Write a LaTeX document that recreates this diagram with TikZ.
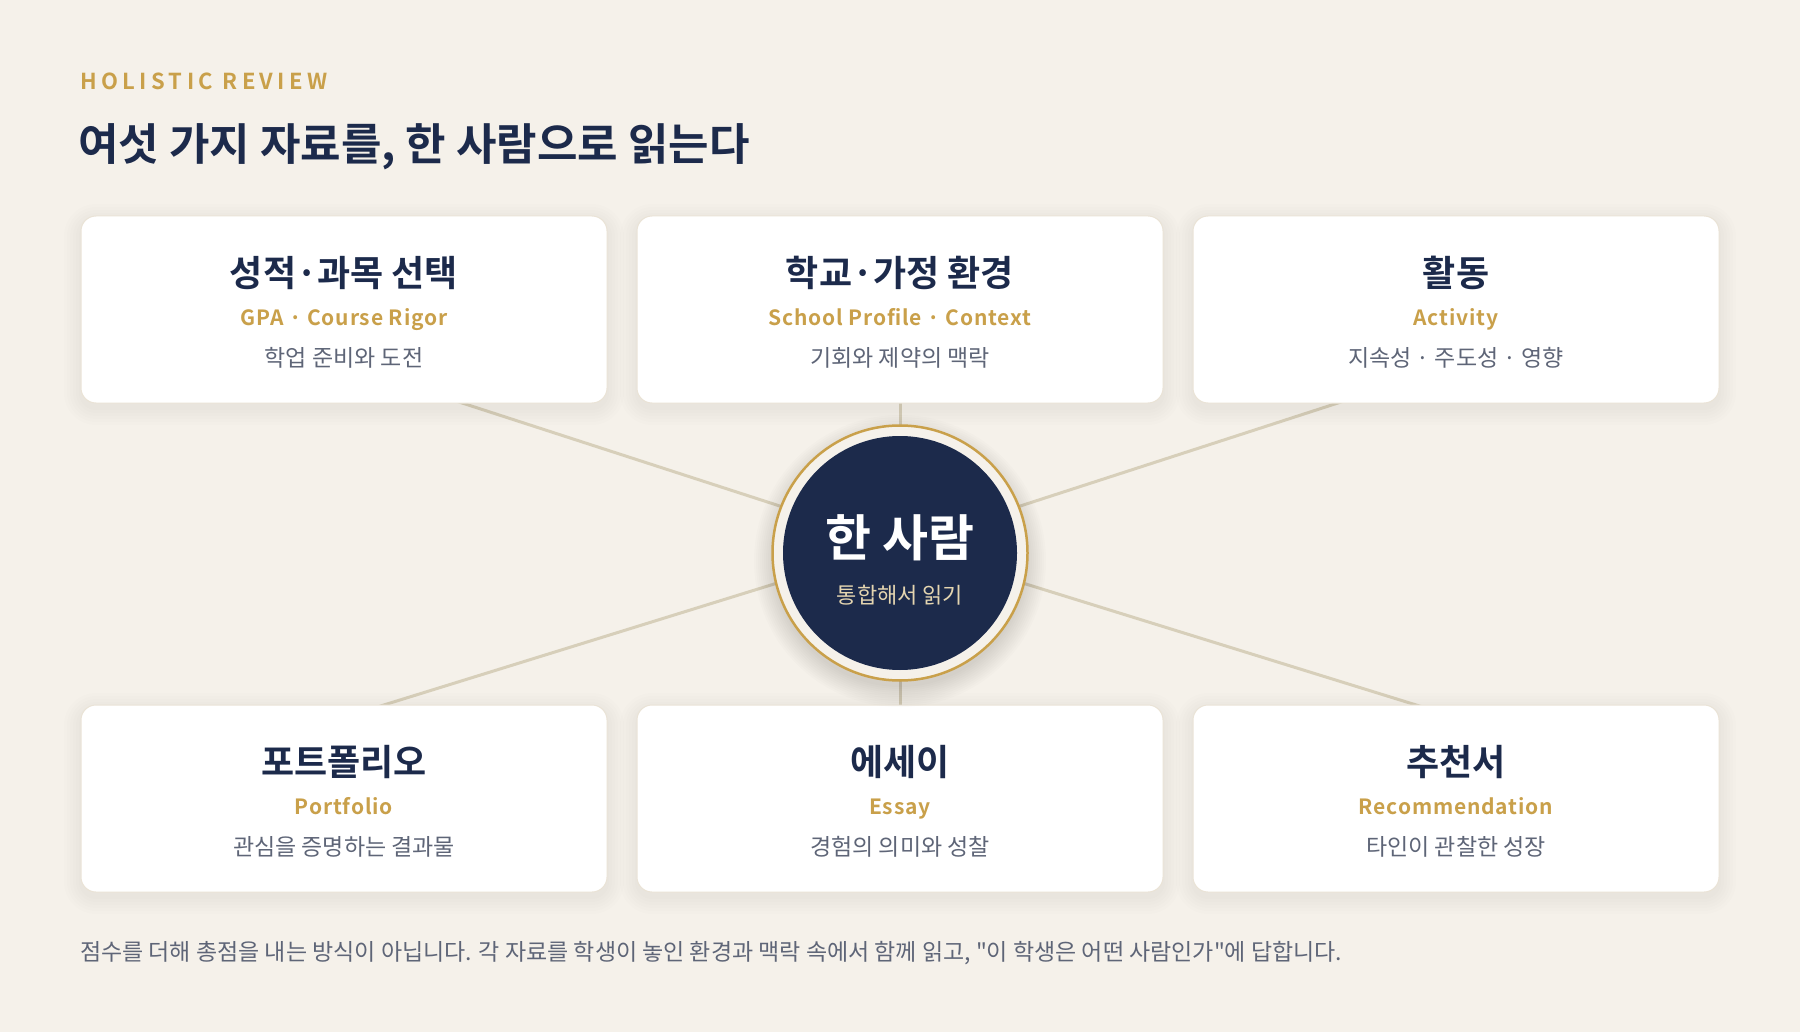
\documentclass[tikz,border=0pt]{standalone}
\usepackage{fontspec}
\setmainfont{Noto Sans CJK KR}[BoldFont={Noto Sans CJK KR Bold}]
\newfontfamily\spacedfont{Noto Sans CJK KR Bold}[LetterSpace=20]
\newfontfamily\subfont{Noto Sans CJK KR Bold}[LetterSpace=4]
\newfontfamily\footfont{Noto Sans CJK KR}
\definecolor{navy}{HTML}{1C2A4B}
\definecolor{gold}{HTML}{C9A04A}
\definecolor{slate}{HTML}{5E6577}
\definecolor{bgc}{HTML}{F5F1EA}
\definecolor{cardline}{HTML}{EAE3D6}
\definecolor{linkc}{HTML}{D7CFBA}
\definecolor{pale}{HTML}{E4D5B0}
\tikzset{
  card/.style={draw=cardline, line width=1pt, fill=white, rounded corners=15pt,
    minimum width=526pt, minimum height=187pt, inner sep=0pt},
  ctitle/.style={font=\fontsize{36}{42}\selectfont\bfseries, text=navy, inner sep=0pt},
  csub/.style={font=\subfont\fontsize{21}{26}\selectfont, text=gold, inner sep=0pt, anchor=base},
  cdesc/.style={font=\fontsize{23}{28}\selectfont, text=slate, inner sep=0pt},
  link/.style={draw=linkc, line width=3pt},
}
\begin{document}
\begin{tikzpicture}[x=1pt,y=-1pt]
\useasboundingbox (0,0) rectangle (1800,1032);
\fill[bgc] (0,0) rectangle (1800,1032);

% header
\node[anchor=west, inner sep=0pt, text=gold, font=\spacedfont\fontsize{22}{26}\selectfont] (kicker) at (80,81) {HOLISTIC REVIEW};
\node[anchor=west, inner sep=0pt, text=navy, font=\fontsize{44}{52}\selectfont\bfseries] (headline) at (78,146.5) {여섯 가지 자료를, 한 사람으로 읽는다};

% connectors
\coordinate (hub) at (900,545);
\coordinate (e1) at (419,389);
\coordinate (e2) at (900,390);
\coordinate (e3) at (1381,389);
\coordinate (e4) at (358,713);
\coordinate (e5) at (900,715);
\coordinate (e6) at (1442,713);
\foreach \e in {e1,e2,e3,e4,e5,e6} { \draw[link] (hub) -- (\e); }

% card shadows
\foreach \cx/\cy in {344/309.5, 900/309.5, 1456/309.5, 344/798.5, 900/798.5, 1456/798.5}{
  \foreach \k in {2,5,8,11,14,17}{
    \fill[black, opacity=0.007, rounded corners=15pt+\k pt]
      (\cx-263-\k, \cy-93.5-\k+5) rectangle (\cx+263+\k, \cy+93.5+\k+5);
  }
}

% cards
\node[card] (c1) at (344,309.5) {};
\node[card] (c2) at (900,309.5) {};
\node[card] (c3) at (1456,309.5) {};
\node[card] (c4) at (344,798.5) {};
\node[card] (c5) at (900,798.5) {};
\node[card] (c6) at (1456,798.5) {};

% card texts
\node[ctitle] (t1) at (344,273) {성적·과목 선택};
\node[csub]   (s1) at (344,325.5) {GPA · Course Rigor};
\node[cdesc]  (d1) at (344,358) {학업 준비와 도전};

\node[ctitle] (t2) at (900,273) {학교·가정 환경};
\node[csub]   (s2) at (900,325.5) {School Profile · Context};
\node[cdesc]  (d2) at (900,358) {기회와 제약의 맥락};

\node[ctitle] (t3) at (1456,273) {활동};
\node[csub]   (s3) at (1456,325.5) {Activity};
\node[cdesc]  (d3) at (1456,358) {지속성 · 주도성 · 영향};

\node[ctitle] (t4) at (344,762) {포트폴리오};
\node[csub]   (s4) at (344,814.5) {Portfolio};
\node[cdesc]  (d4) at (344,847) {관심을 증명하는 결과물};

\node[ctitle] (t5) at (900,762) {에세이};
\node[csub]   (s5) at (900,814.5) {Essay};
\node[cdesc]  (d5) at (900,847) {경험의 의미와 성찰};

\node[ctitle] (t6) at (1456,762) {추천서};
\node[csub]   (s6) at (1456,814.5) {Recommendation};
\node[cdesc]  (d6) at (1456,847) {타인이 관찰한 성장};

% hub circle shadow
\foreach \k in {2,4,...,22}{
  \fill[black, opacity=0.012] (900,561) circle (124+\k);
}
\node[circle, fill=bgc, draw=gold, line width=2.5pt, minimum size=255pt, inner sep=0pt] (ring) at (900,553) {};
\node[circle, fill=navy, minimum size=234pt, inner sep=0pt] (core) at (900,553) {};
\node[inner sep=0pt, text=white, font=\fontsize{50}{56}\selectfont\bfseries] (who) at (900,538) {한 사람};
\node[inner sep=0pt, text=pale, font=\fontsize{22}{26}\selectfont] (how) at (900,595) {통합해서 읽기};

% footer
\node[anchor=west, inner sep=0pt, text=slate, font=\footfont\fontsize{23}{28}\selectfont] (note) at (80,953) {점수를 더해 총점을 내는 방식이 아닙니다. 각 자료를 학생이 놓인 환경과 맥락 속에서 함께 읽고, "이 학생은 어떤 사람인가"에 답합니다.};
\end{tikzpicture}
\end{document}
